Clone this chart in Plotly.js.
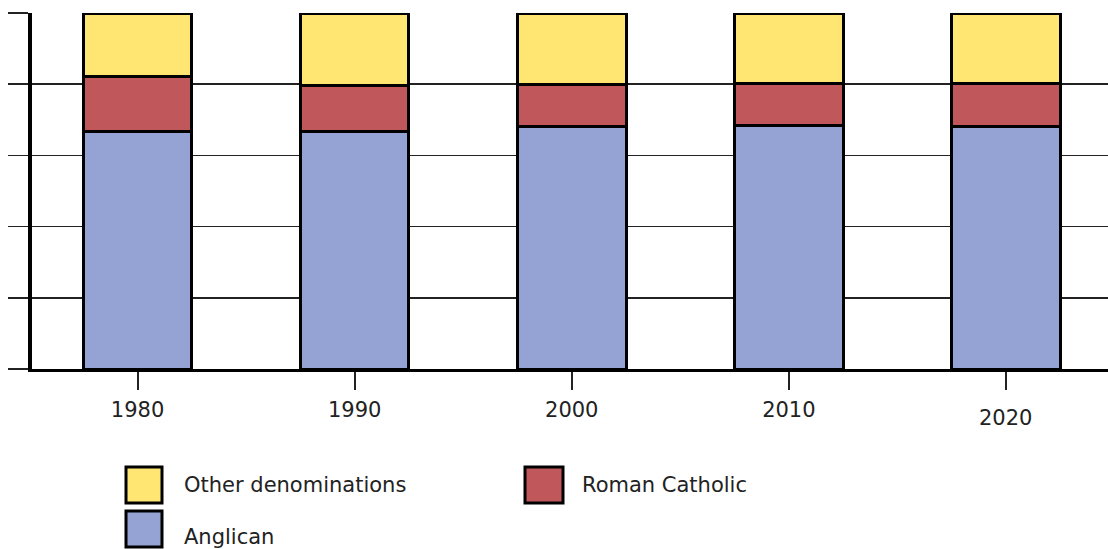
<!DOCTYPE html>
<html>
<head>
<meta charset="utf-8">
<script src="https://cdn.plot.ly/plotly-3.0.1.min.js"></script>
<style>html,body{margin:0;padding:0;background:#fff;}#chart{width:1108px;height:549px;}</style>
</head>
<body>
<div id="chart"></div>
<script>
// Data (percent of population by denomination)
var years = [1980, 1990, 2000, 2010, 2020];
var yearLabels = ['1980', '1990', '2000', '2010', '2020'];
var anglican = [66.6, 66.6, 68.0, 68.3, 68.1];
var romanCatholic = [15.7, 12.9, 11.8, 11.8, 12.0];
var otherDenominations = [17.7, 20.5, 20.2, 19.9, 19.9];
var seriesNames = ['Anglican', 'Roman Catholic', 'Other denominations'];
var seriesColors = ['#94a3d3', '#c0575a', '#ffe673'];

var seriesValues = [anglican, romanCatholic, otherDenominations];
var traces = seriesValues.map(function (vals, i) {
  return {
    type: 'bar',
    name: seriesNames[i],
    x: years,
    y: vals,
    width: 5,
    marker: {color: seriesColors[i], line: {color: '#000', width: 3}},
    showlegend: false,
    hoverinfo: 'x+y+name'
  };
});

var font = 'DejaVu Sans, Verdana, sans-serif';
var ML = 32, MB = 180, MT = 13;
var plotW = 1108 - ML, plotH = 549 - MT - MB;
function px(xp) { return (xp - ML) / plotW; }
function py(yp) { return (549 - MB - yp) / plotH; }

// custom legend: big square swatches with text (pixel positions from the reference)
var legendItems = [
  {idx: 2, sx: 126, sy: 467, sw: 36, tx: 182, ty: 485},
  {idx: 1, sx: 525, sy: 467, sw: 38, tx: 580, ty: 485},
  {idx: 0, sx: 126, sy: 511, sw: 36, tx: 182, ty: 537}
];
var shapes = [];
var annotations = [];
legendItems.forEach(function (it) {
  shapes.push({
    type: 'rect', xref: 'paper', yref: 'paper',
    x0: px(it.sx), x1: px(it.sx + it.sw), y0: py(it.sy + 36), y1: py(it.sy),
    fillcolor: seriesColors[it.idx], line: {color: '#000', width: 3}
  });
  annotations.push({
    xref: 'paper', yref: 'paper', x: px(it.tx), y: py(it.ty),
    xanchor: 'left', yanchor: 'middle', showarrow: false,
    text: seriesNames[it.idx], font: {family: font, size: 21, color: '#222'}
  });
});
// last tick label sits slightly lower in the reference
annotations.push({
  xref: 'x', yref: 'paper', x: years[4], y: 0, yanchor: 'top', yshift: -35,
  showarrow: false, text: yearLabels[4], font: {family: font, size: 21, color: '#222'}
});

var layout = {
  width: 1108, height: 549,
  margin: {l: ML, r: 0, t: MT, b: MB},
  paper_bgcolor: '#fff', plot_bgcolor: '#fff',
  barmode: 'stack',
  showlegend: false,
  font: {family: font, size: 21, color: '#222'},
  xaxis: {
    range: [1975.14, 2024.7],
    tickvals: years,
    ticktext: yearLabels.slice(0, 4).concat(['']),
    showgrid: false, zeroline: false,
    showline: true, linecolor: '#000', linewidth: 3,
    ticks: 'outside', ticklen: 18, tickwidth: 2, tickcolor: '#222',
    ticklabelstandoff: 2,
    tickfont: {family: font, size: 21, color: '#222'}
  },
  yaxis: {
    range: [0, 100],
    dtick: 20, tick0: 0,
    showticklabels: false,
    showgrid: true, gridcolor: '#222', gridwidth: 1.6,
    zeroline: false,
    showline: true, linecolor: '#000', linewidth: 4,
    ticks: 'outside', ticklen: 20, tickwidth: 1.6, tickcolor: '#222'
  },
  shapes: shapes,
  annotations: annotations
};

Plotly.newPlot('chart', traces, layout, {displayModeBar: false, staticPlot: true});
</script>
</body>
</html>
